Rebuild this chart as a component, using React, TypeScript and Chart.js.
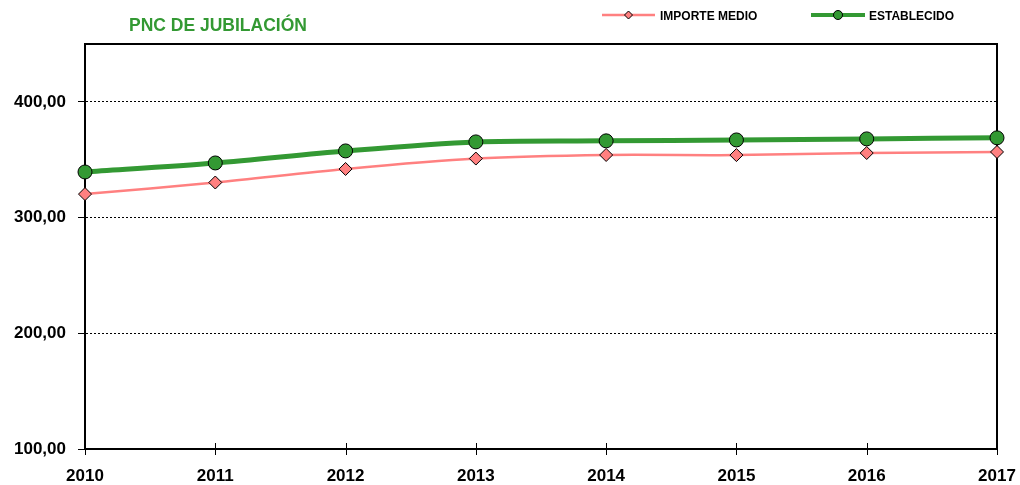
import React, { useEffect, useRef } from "react";
import { Chart, registerables } from "chart.js";

Chart.register(...registerables);

const TITLE = "PNC DE JUBILACIÓN";
const YEARS = ["2010", "2011", "2012", "2013", "2014", "2015", "2016", "2017"];
const IMPORTE_MEDIO = [320.3, 330.3, 342.0, 351.0, 354.1, 354.0, 355.8, 356.7];
const ESTABLECIDO = [339.4, 347.2, 357.6, 365.4, 366.3, 367.1, 368.0, 368.9];
const SERIES_NAMES = ["IMPORTE MEDIO", "ESTABLECIDO"];
const Y_MIN = 100;
const Y_MAX = 450;
const Y_STEP = 100;

const PINK = "#FF8080";
const GREEN = "#339933";
const FONT = '"Liberation Sans", Arial, sans-serif';

const frame = {
  id: "frame",
  beforeDatasetsDraw(chart: any) {
    const ctx = chart.ctx;
    const { left, right, top, bottom } = chart.chartArea;
    ctx.save();
    ctx.strokeStyle = "#000";
    ctx.lineWidth = 2;
    ctx.strokeRect(left, top, right - left, bottom - top);
    const xs = chart.scales.x;
    ctx.lineWidth = 1;
    for (let i = 0; i < YEARS.length; i++) {
      const x = Math.round(xs.getPixelForTick(i)) + 0.5;
      ctx.beginPath();
      ctx.moveTo(x, bottom + 6);
      ctx.lineTo(x, bottom - 6);
      ctx.stroke();
    }
    ctx.restore();
  },
  afterDraw(chart: any) {
    const ctx = chart.ctx;
    ctx.save();
    // title
    ctx.fillStyle = GREEN;
    ctx.font = `bold 17.5px ${FONT}`;
    ctx.textBaseline = "alphabetic";
    ctx.textAlign = "left";
    ctx.fillText(TITLE, 129, 31);
    // legend
    const items = [
      { name: SERIES_NAMES[0], x0: 602, x1: 655, color: PINK, lw: 2.5, style: "diamond", tx: 660 },
      { name: SERIES_NAMES[1], x0: 811, x1: 865, color: GREEN, lw: 4, style: "circle", tx: 869 },
    ];
    const ly = 15;
    for (const it of items) {
      ctx.strokeStyle = it.color;
      ctx.lineWidth = it.lw;
      ctx.beginPath();
      ctx.moveTo(it.x0, ly);
      ctx.lineTo(it.x1, ly);
      ctx.stroke();
      const cx = (it.x0 + it.x1) / 2;
      ctx.fillStyle = it.color;
      ctx.strokeStyle = "#000";
      ctx.lineWidth = 1;
      ctx.beginPath();
      if (it.style === "diamond") {
        const r = 4;
        ctx.moveTo(cx, ly - r);
        ctx.lineTo(cx + r, ly);
        ctx.lineTo(cx, ly + r);
        ctx.lineTo(cx - r, ly);
        ctx.closePath();
      } else {
        ctx.arc(cx, ly, 4.5, 0, Math.PI * 2);
      }
      ctx.fill();
      ctx.stroke();
      ctx.fillStyle = "#000";
      ctx.font = `bold 12px ${FONT}`;
      ctx.textBaseline = "alphabetic";
      ctx.fillText(it.name, it.tx, 19.5);
    }
    ctx.restore();
  },
};

export default function App() {
  const ref = useRef<HTMLCanvasElement | null>(null);

  useEffect(() => {
    if (!ref.current) return;
    const chart = new Chart(ref.current, {
      type: "line",
      data: {
        labels: YEARS,
        datasets: [
          {
            label: SERIES_NAMES[0],
            data: IMPORTE_MEDIO,
            borderColor: PINK,
            borderWidth: 2.5,
            backgroundColor: PINK,
            pointStyle: "rectRot",
            pointRadius: 6.5,
            pointBackgroundColor: PINK,
            pointBorderColor: "#000",
            pointBorderWidth: 1,
            tension: 0.3,
            clip: false as any,
          },
          {
            label: SERIES_NAMES[1],
            data: ESTABLECIDO,
            borderColor: GREEN,
            borderWidth: 5,
            backgroundColor: GREEN,
            pointStyle: "circle",
            pointRadius: 7,
            pointBackgroundColor: GREEN,
            pointBorderColor: "#000",
            pointBorderWidth: 1,
            tension: 0.3,
            clip: false as any,
          },
        ],
      },
      options: {
        animation: false,
        responsive: false,
        maintainAspectRatio: false,
        layout: { padding: { top: 44, right: 23, left: 0, bottom: 0 } },
        plugins: {
          legend: { display: false },
          title: { display: false },
          tooltip: { enabled: false },
        },
        scales: {
          x: {
            offset: false,
            grid: {
              drawOnChartArea: false,
              drawTicks: true,
              tickLength: 13,
              tickColor: "rgba(0,0,0,0)",
              color: "rgba(0,0,0,0)",
            },
            border: { display: true, color: "#000", width: 2 },
            ticks: {
              color: "#000",
              font: { family: FONT, size: 17, weight: "bold" },
              padding: 4,
              maxRotation: 0,
              autoSkip: false,
            },
            afterFit(scale: any) {
              scale.height = 36;
            },
          },
          y: {
            min: Y_MIN,
            max: Y_MAX,
            afterBuildTicks(scale: any) {
              scale.ticks = scale.ticks.filter((t: any) => t.value <= 400);
            },
            grid: {
              color: "#000",
              lineWidth: 1,
              tickLength: 7,
              tickColor: "#000",
              tickBorderDash: [],
            },
            border: { display: true, color: "#000", width: 2, dash: [2, 2] },
            ticks: {
              stepSize: Y_STEP,
              color: "#000",
              font: { family: FONT, size: 17, weight: "bold" },
              padding: 12,
              callback: (v: any) => Number(v).toFixed(2).replace(".", ","),
            },
            afterFit(scale: any) {
              scale.width = 85;
            },
          },
        },
      },
      plugins: [frame],
    });
    return () => chart.destroy();
  }, []);

  return (
    <div style={{ position: "absolute", left: 0, top: 0, width: 1020, height: 485, background: "#fff" }}>
      <canvas ref={ref} width={1020} height={485} style={{ width: 1020, height: 485, display: "block" }} />
    </div>
  );
}
